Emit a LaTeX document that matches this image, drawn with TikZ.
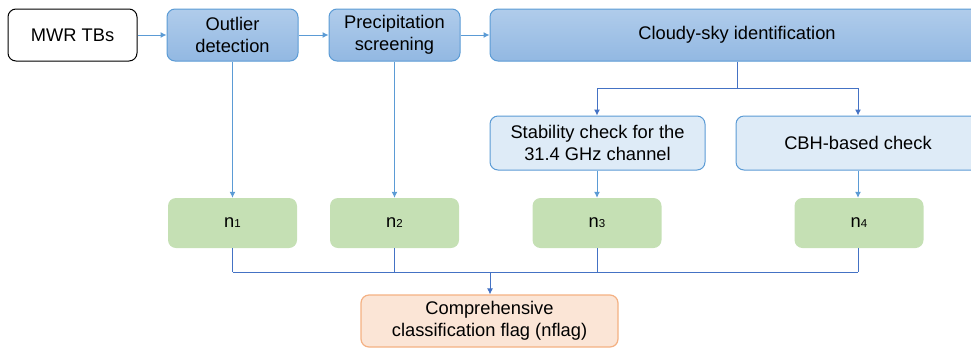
\documentclass[tikz,border=0pt]{standalone}
\usepackage{fontspec}
\setmainfont{Liberation Sans}
\usetikzlibrary{arrows.meta}
\definecolor{lineblue}{HTML}{5B9BD5}
\definecolor{darkblue}{HTML}{4472C4}
\definecolor{midtop}{HTML}{B0CCEB}
\definecolor{midbot}{HTML}{92B8E2}
\definecolor{lightblue}{HTML}{DEEBF7}
\definecolor{greenfill}{HTML}{C5E0B4}
\definecolor{orangefill}{HTML}{FBE5D6}
\definecolor{orangeline}{HTML}{F4B183}
\tikzset{
  base/.style={rounded corners=8pt, align=center, inner sep=0pt, font=\fontsize{18.3}{21.5}\selectfont, text=black},
  whitebox/.style={base, draw=black, line width=1pt, fill=white},
  midbox/.style={base, draw=lineblue, line width=1pt, top color=midtop, bottom color=midbot},
  lightbox/.style={base, draw=lineblue, line width=1pt, fill=lightblue},
  greenbox/.style={base, fill=greenfill, minimum width=129pt, minimum height=50pt},
  orangebox/.style={base, draw=orangeline, line width=1.2pt, fill=orangefill},
  conn/.style={lineblue, line width=1pt, -{Latex[length=6pt,width=6pt]}},
  connd/.style={darkblue, line width=1pt, -{Latex[length=6pt,width=6pt]}},
  plain/.style={lineblue, line width=1pt},
  plaind/.style={darkblue, line width=1pt},
}
\newcommand{\nsub}[1]{n{\fontsize{11.5}{11.5}\selectfont #1}}
\begin{document}
\begin{tikzpicture}[x=1pt,y=-1pt]
\useasboundingbox (0,0) rectangle (971,349);
\clip (0,0) rectangle (971,349);
% top row
\node[whitebox, minimum width=129pt, minimum height=52pt] (mwr) at (72.5,35) {MWR TBs};
\node[midbox, minimum width=131pt, minimum height=52pt] (out) at (232.5,35) {Outlier\\detection};
\node[midbox, minimum width=131pt, minimum height=52pt] (pre) at (394.5,35) {Precipitation\\screening};
\node[midbox, minimum width=494pt, minimum height=52pt] (cld) at (737,35) {Cloudy-sky identification};
% second row
\node[lightbox, minimum width=215pt, minimum height=54pt] (stb) at (597.5,143) {Stability check for the\\31.4 GHz channel};
\node[lightbox, minimum width=244pt, minimum height=54pt] (cbh) at (858,143) {CBH-based check};
% n row
\node[greenbox] (n1) at (232.5,223) {\nsub{1}};
\node[greenbox] (n2) at (394.5,223) {\nsub{2}};
\node[greenbox] (n3) at (597,223) {\nsub{3}};
\node[greenbox] (n4) at (859,223) {\nsub{4}};
% final
\node[orangebox, minimum width=257pt, minimum height=52pt] (fin) at (489.5,321) {Comprehensive\\classification flag (nflag)};
% coordinates
\coordinate (split) at (737,88);
\coordinate (splitL) at (597,88);
\coordinate (splitR) at (858,88);
\coordinate (join) at (490,272);
% top arrows
\draw[conn] (mwr.east) -- (out.west);
\draw[conn] (out.east) -- (pre.west);
\draw[conn] (pre.east) -- (cld.west);
\draw[conn] (out.south -| n1.north) -- (n1.north);
\draw[conn] (pre.south -| n2.north) -- (n2.north);
% cloudy split
\draw[plaind] (cld.south -| split) -- (split);
\draw[plaind] (splitL) -- (splitR);
\draw[connd] (splitL) -- (splitL |- stb.north);
\draw[connd] (splitR) -- (splitR |- cbh.north);
\draw[conn] (stb.south -| n3.north) -- (n3.north);
\draw[conn] (cbh.south -| splitR) -- (splitR |- n4.north);
% join
\draw[plaind] (n1.south) -- (n1.south |- join);
\draw[plaind] (n2.south) -- (n2.south |- join);
\draw[plaind] (n3.south) -- (n3.south |- join);
\draw[plaind] (splitR |- n4.south) -- (splitR |- join);
\draw[plaind] (n1.south |- join) -- (splitR |- join);
\draw[connd] (join) -- (join |- fin.north);
\end{tikzpicture}
\end{document}
